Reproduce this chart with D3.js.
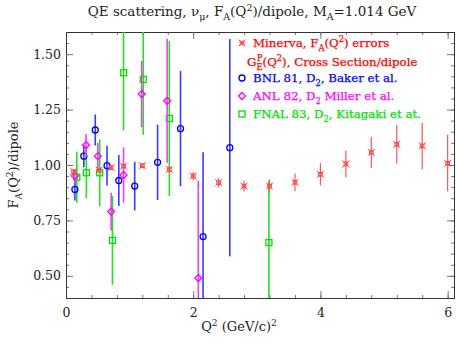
<!DOCTYPE html>
<html>
<head>
<meta charset="utf-8">
<script src="https://cdn.jsdelivr.net/npm/d3@7"></script>
<style>
  body { margin: 0; background: #fff; }
  text { font-family: "DejaVu Serif", serif; }
</style>
</head>
<body>
<svg id="chart" width="456" height="343"></svg>
<script>
// Minerva F_A(Q^2)/dipole with errors
const minervaQ2 = [0.12, 0.52, 0.71, 0.905, 1.2, 1.625, 2.0, 2.4, 2.8, 3.2, 3.6, 4.0, 4.4, 4.8, 5.2, 5.6, 6.0]
const minervaVal = [0.97, 0.977, 0.988, 0.995, 0.997, 0.98, 0.95, 0.92, 0.905, 0.905, 0.922, 0.958, 1.005, 1.057, 1.093, 1.086, 1.008]
const minervaErr = [0.01, 0.01, 0.01, 0.01, 0.012, 0.015, 0.018, 0.02, 0.025, 0.03, 0.04, 0.05, 0.06, 0.07, 0.087, 0.105, 0.128]

// BNL 81, D2, Baker et al.
const bnlQ2 = [0.14, 0.28, 0.46, 0.645, 0.83, 1.08, 1.44, 1.80, 2.155, 2.575]
const bnlVal = [0.89, 1.04, 1.158, 0.997, 0.93, 0.905, 1.012, 1.164, 0.677, 1.078]
const bnlErr = [0.05, 0.05, 0.07, 0.09, 0.115, 0.11, 0.17, 0.26, 0.38, 0.49]

// ANL 82, D2, Miller et al.
const anlQ2 = [0.14, 0.315, 0.5, 0.71, 0.905, 1.19, 1.59, 2.08]
const anlVal = [0.95, 1.09, 1.04, 0.79, 0.955, 1.32, 1.29, 0.49]
const anlErr = [0.03, 0.05, 0.06, 0.085, 0.125, 0.15, 0.28, 0.44]

// FNAL 83, D2, Kitagaki et al.
const fnalQ2 = [0.17, 0.32, 0.53, 0.73, 0.905, 1.215, 1.625, 3.19]
const fnalVal = [0.945, 0.965, 0.965, 0.66, 1.416, 1.386, 1.21, 0.65]
const fnalErr = [0.115, 0.115, 0.15, 0.2, 0.26, 0.25, 0.35, 0.28]

const xTicks = [0, 2, 4, 6]
const yTicks = [0.50, 0.75, 1.00, 1.25, 1.50]

const svg = d3.select("#chart")

// plot area
const plotLeft = 66, plotRight = 454, plotTop = 32, plotBottom = 298

const x = d3.scaleLinear().domain([0, 6.1]).range([plotLeft, plotRight])
const y = d3.scaleLinear().domain([0.4, 1.6]).range([plotBottom, plotTop])

const red = "#ff0000", blue = "#0000ff", magenta = "#ff00ff", green = "#00e000"

svg.append("clipPath").attr("id", "plotClip")
    .append("rect")
    .attr("x", plotLeft).attr("y", plotTop)
    .attr("width", plotRight - plotLeft).attr("height", plotBottom - plotTop)

// axes, ticks pointing inward on all four sides
function drawAxis(axisFn, scale, transform, ticks, minor, labels) {
    let g = svg.append("g").attr("transform", transform)
    g.call(axisFn(scale).tickValues(minor).tickSize(-3).tickFormat(""))
    let g2 = g.append("g")
    g2.call(axisFn(scale).tickValues(ticks).tickSize(-7).tickFormat(labels ? (d => labels(d)) : ""))
    g.selectAll(".tick line").attr("stroke", "#777")
    g.selectAll(".domain").attr("stroke", "#333")
    g.selectAll("text").attr("fill", "#222").style("font-size", "12.5px")
        .style("font-family", "'DejaVu Serif', serif")
    return g
}

const xMinor = d3.range(0, 6.01, 0.4).map(d => +d.toFixed(1))
const yMinor = d3.range(0.4, 1.601, 0.05).map(d => +d.toFixed(2))

let gx = drawAxis(d3.axisBottom, x, `translate(0,${plotBottom})`, xTicks, xMinor, d => d3.format("d")(d))
gx.selectAll("text").attr("y", 10).attr("dy", "0.71em")
drawAxis(d3.axisTop, x, `translate(0,${plotTop})`, xTicks, xMinor, null)
let gy = drawAxis(d3.axisLeft, y, `translate(${plotLeft},0)`, yTicks, yMinor, d => d3.format(".2f")(d))
gy.selectAll("text").attr("x", -5)
drawAxis(d3.axisRight, y, `translate(${plotRight},0)`, yTicks, yMinor, null)

// rich text helper: parts are [string, "sub" | "sup" | "", optional dx]
function richText(g, parts, size) {
    let shift = 0
    parts.forEach(p => {
        let target = p[1] === "sub" ? size * 0.3 : p[1] === "sup" ? -size * 0.4 : 0
        let span = g.append("tspan")
            .attr("dy", target - shift)
            .style("font-size", p[1] ? (size * 0.7) + "px" : size + "px")
            .text(p[0])
        if (p[2]) span.attr("dx", p[2])
        shift = target
    })
    return g
}

// markers
function star(g, cx, cy, color) {
    let s = g.append("g").attr("transform", `translate(${cx},${cy})`)
        .attr("stroke", color).attr("fill", "none").attr("stroke-width", 1)
    s.append("path").attr("d", "M-3.5,-3.5L3.5,3.5M-3.5,3.5L3.5,-3.5")
    s.append("rect").attr("x", -1.8).attr("y", -1.8).attr("width", 3.6).attr("height", 3.6)
}
function circle(g, cx, cy, color) {
    g.append("circle").attr("cx", cx).attr("cy", cy).attr("r", 3)
        .attr("fill", "none").attr("stroke", color).attr("stroke-width", 1.3)
}
function diamond(g, cx, cy, color) {
    g.append("path").attr("d", `M${cx},${cy - 3.5}L${cx + 3.5},${cy}L${cx},${cy + 3.5}L${cx - 3.5},${cy}Z`)
        .attr("fill", "none").attr("stroke", color).attr("stroke-width", 1.3)
}
function square(g, cx, cy, color) {
    g.append("rect").attr("x", cx - 3).attr("y", cy - 3).attr("width", 6).attr("height", 6)
        .attr("fill", "none").attr("stroke", color).attr("stroke-width", 1.3)
}

const plot = svg.append("g").attr("clip-path", "url(#plotClip)")

function drawSeries(qs, vals, errs, color, marker, barColor, barWidth) {
    let g = plot.append("g")
    qs.forEach((q, i) => {
        g.append("line")
            .attr("x1", x(q)).attr("x2", x(q))
            .attr("y1", y(vals[i] - errs[i])).attr("y2", y(vals[i] + errs[i]))
            .attr("stroke", barColor).attr("stroke-width", barWidth)
    })
    qs.forEach((q, i) => marker(g, x(q), y(vals[i]), color))
}

drawSeries(fnalQ2, fnalVal, fnalErr, green, square, "#22e022", 1.6)
drawSeries(bnlQ2, bnlVal, bnlErr, blue, circle, "#3a3aff", 1.6)
drawSeries(anlQ2, anlVal, anlErr, magenta, diamond, "#f040f0", 1.6)
drawSeries(minervaQ2, minervaVal, minervaErr, "#ff4444", star, "#ff5555", 1.2)

// legend
const legend = svg.append("g").style("font-size", "12px")
const legendRows = [
    { y: 47, color: red, marker: star, mc: "#ff4444",
      parts: [["Minerva, F", ""], ["A", "sub"], ["(Q", ""], ["2", "sup"], [") errors", ""]] },
    { y: 66, color: red, marker: null, indent: true,
      parts: [["G", ""], ["E", "sub"], ["P", "sup", -5.5], ["(Q", ""], ["2", "sup"], ["), Cross Section/dipole", ""]] },
    { y: 82, color: blue, marker: circle, mc: blue,
      parts: [["BNL 81, D", ""], ["2", "sub"], [", Baker et al.", ""]] },
    { y: 100, color: magenta, marker: diamond, mc: magenta,
      parts: [["ANL 82, D", ""], ["2", "sub"], [" Miller et al.", ""]] },
    { y: 118, color: green, marker: square, mc: green,
      parts: [["FNAL 83, D", ""], ["2", "sub"], [", Kitagaki et at.", ""]] }
]
legendRows.forEach(r => {
    if (r.marker) r.marker(legend, 242, r.y - 4, r.mc)
    let t = legend.append("text")
        .attr("x", r.indent ? 247 : 253).attr("y", r.y)
        .attr("fill", r.color).attr("stroke", r.color).attr("stroke-width", 0.25)
    richText(t, r.parts, 11.8)
})

// title
let title = svg.append("text").attr("x", 252).attr("y", 16)
    .attr("text-anchor", "middle").attr("fill", "#222")
richText(title, [["QE scattering, ν", ""], ["μ", "sub"], [", F", ""], ["A", "sub"], ["(Q", ""], ["2", "sup"],
    [")/dipole, M", ""], ["A", "sub"], ["=1.014 GeV", ""]], 13.5)

// axis titles
let xTitle = svg.append("text").attr("x", 239).attr("y", 331)
    .attr("text-anchor", "middle").attr("fill", "#222")
richText(xTitle, [["Q", ""], ["2", "sup"], [" (GeV/c)", ""], ["2", "sup"]], 13)

let yTitle = svg.append("text").attr("transform", "translate(18,165) rotate(-90)")
    .attr("text-anchor", "middle").attr("fill", "#222")
richText(yTitle, [["F", ""], ["A", "sub"], ["(Q", ""], ["2", "sup"], [")/dipole", ""]], 13)
</script>
</body>
</html>
